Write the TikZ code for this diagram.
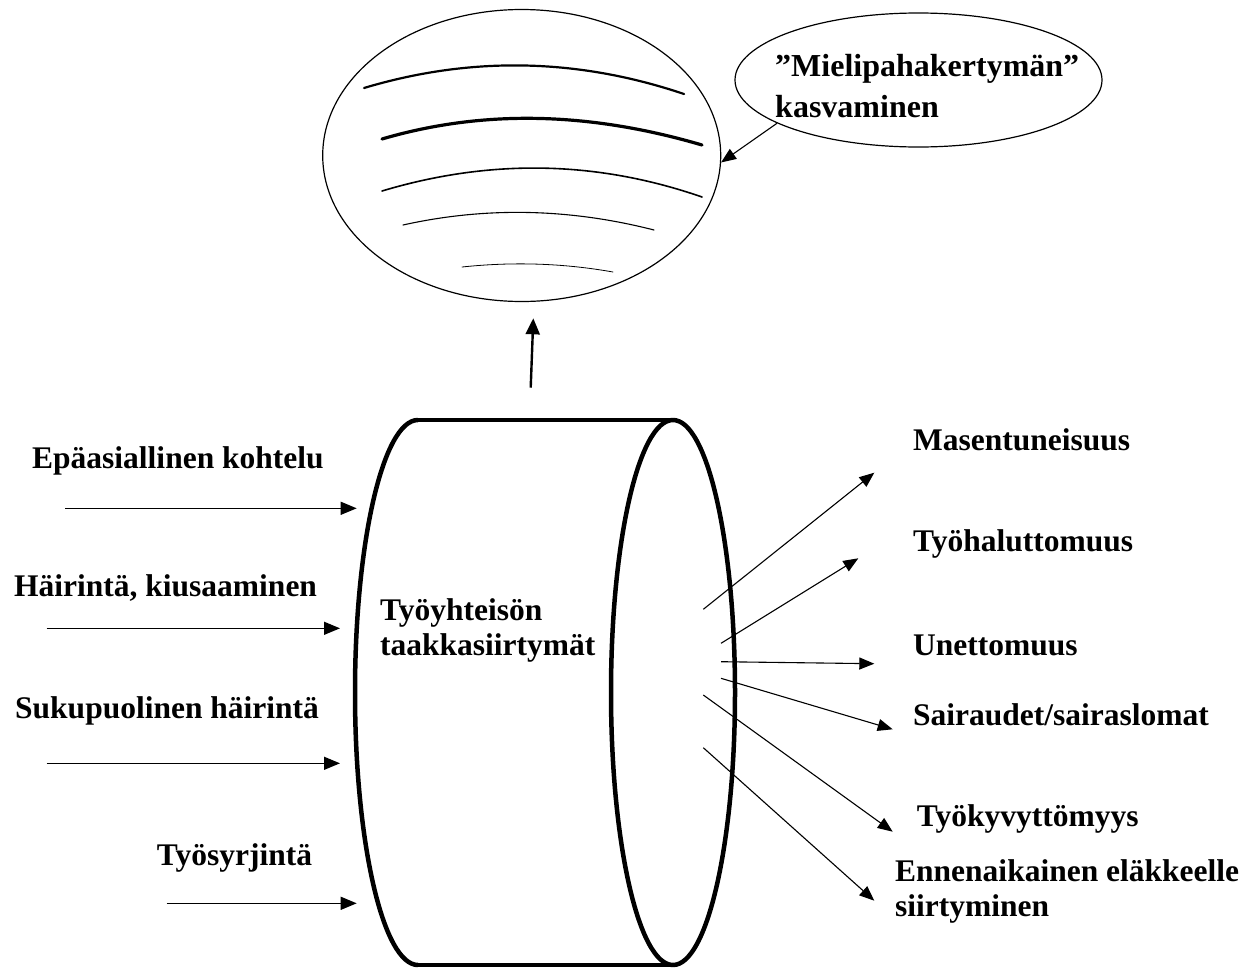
\documentclass[tikz,border=0pt]{standalone}
\usepackage{fontspec}
\setmainfont{Liberation Serif}
\usetikzlibrary{arrows.meta,shapes.geometric,positioning}

\begin{document}
\begin{tikzpicture}[
        x=1pt, y=-1pt,
        label text/.style={anchor=base west, inner sep=0pt, align=left,
            font=\fontsize{31.5}{35}\selectfont\bfseries},
        bubble text/.style={label text, font=\fontsize{32}{41}\selectfont\bfseries},
        thin arrow/.style={line width=1.1pt, -{Triangle[length=15pt,width=12pt]}},
        in arrow/.style={line width=1.3pt, -{Triangle[length=16pt,width=13pt]}},
        rise arrow/.style={line width=2.4pt, -{Triangle[length=16pt,width=14pt]}},
        drum/.style={line width=4.5pt, line join=round},
        stroke/.style={line cap=round}
    ]
    \useasboundingbox (0,0) rectangle (1253,972);
    % cloud and bubble
    \node[draw, ellipse, line width=1.2pt, minimum width=398pt, minimum height=292pt, inner sep=0pt] (cloud) at (521.7,155.5) {};
    \node[draw, ellipse, line width=1.2pt, minimum width=367pt, minimum height=134pt, inner sep=0pt] (bubble) at (918.5,80) {};
    % base of a two-line node is its last line
    \node[bubble text] (mieli) at (775,117) {”Mielipahakertymän”\\kasvaminen};
    \draw[thin arrow] (bubble.197) -- (cloud.-2);
    % strokes inside the cloud
    \draw[stroke, line width=2.2pt] (364,88) .. controls (470.7,56) and (577.3,58) .. (684,94);
    \draw[stroke, line width=3.2pt] (382,139) .. controls (488.7,107.7) and (595.3,113.7) .. (702,145);
    \draw[stroke, line width=1.6pt] (382,191) .. controls (488.7,159) and (595.3,160) .. (702,197);
    \draw[stroke, line width=1.1pt] (403,225) .. controls (487,206.3) and (570.7,208.7) .. (654,230);
    \draw[stroke, line width=0.8pt] (462,267) .. controls (512,261.7) and (562.3,263) .. (613,272);
    % the drum
    \draw[drum] (418,420) -- (673,420);
    \draw[drum] (418,965) -- (673,965);
    \draw[drum] (418,420) arc (-90:-270:63 and 272.5);
    \draw[drum] (673,692.5) ellipse (62 and 272.5);
    \node[label text] (taakka) at (380,655) {Työyhteisön\\taakkasiirtymät};
    \coordinate (risebase) at (530.7,387.7);
    \coordinate (risetip) at (533.3,318.3);
    \draw[rise arrow] (risebase) -- (risetip);
    % causes
    \node[label text] (epa) at (32,468) {Epäasiallinen kohtelu};
    \node[label text] (hairinta) at (14,596.7) {Häirintä, kiusaaminen};
    \node[label text] (suku) at (15,718) {Sukupuolinen häirintä};
    \node[label text] (syrj) at (156.7,865) {Työsyrjintä};
    \coordinate (epa s) at (65,508.3);     \coordinate (epa e) at (356.7,508.3);
    \coordinate (hair s) at (46.7,628.3);  \coordinate (hair e) at (340,628.3);
    \coordinate (suku s) at (46.7,763.3);  \coordinate (suku e) at (340,763.3);
    \coordinate (syrj s) at (166.7,903.3); \coordinate (syrj e) at (356.7,903.3);
    \draw[in arrow] (epa s) -- (epa e);
    \draw[in arrow] (hair s) -- (hair e);
    \draw[in arrow] (suku s) -- (suku e);
    \draw[in arrow] (syrj s) -- (syrj e);
    % consequences
    \node[label text] (masent) at (913,450) {Masentuneisuus};
    \node[label text] (halu) at (913,551.7) {Työhaluttomuus};
    \node[label text] (unet) at (913,655) {Unettomuus};
    \node[label text] (saira) at (913,725) {Sairaudet/sairaslomat};
    \node[label text] (kyvy) at (916.7,826.7) {Työkyvyttömyys};
    \node[label text] (ennen) at (895,916.7) {Ennenaikainen eläkkeelle\\siirtyminen};
    \coordinate (masent s) at (703.3,609.3); \coordinate (masent e) at (874.3,472.7);
    \coordinate (halu s) at (721,643.3);     \coordinate (halu e) at (858.3,558.3);
    \coordinate (unet s) at (721,661.7);     \coordinate (unet e) at (874.3,663.7);
    \coordinate (saira s) at (721,678.3);    \coordinate (saira e) at (892.7,729.3);
    \coordinate (kyvy s) at (703.3,695);     \coordinate (kyvy e) at (892.7,831.7);
    \coordinate (ennen s) at (703.3,747.7);  \coordinate (ennen e) at (874.3,900.7);
    \draw[thin arrow] (masent s) -- (masent e);
    \draw[thin arrow] (halu s) -- (halu e);
    \draw[thin arrow] (unet s) -- (unet e);
    \draw[thin arrow] (saira s) -- (saira e);
    \draw[thin arrow] (kyvy s) -- (kyvy e);
    \draw[thin arrow] (ennen s) -- (ennen e);
\end{tikzpicture}
\end{document}
